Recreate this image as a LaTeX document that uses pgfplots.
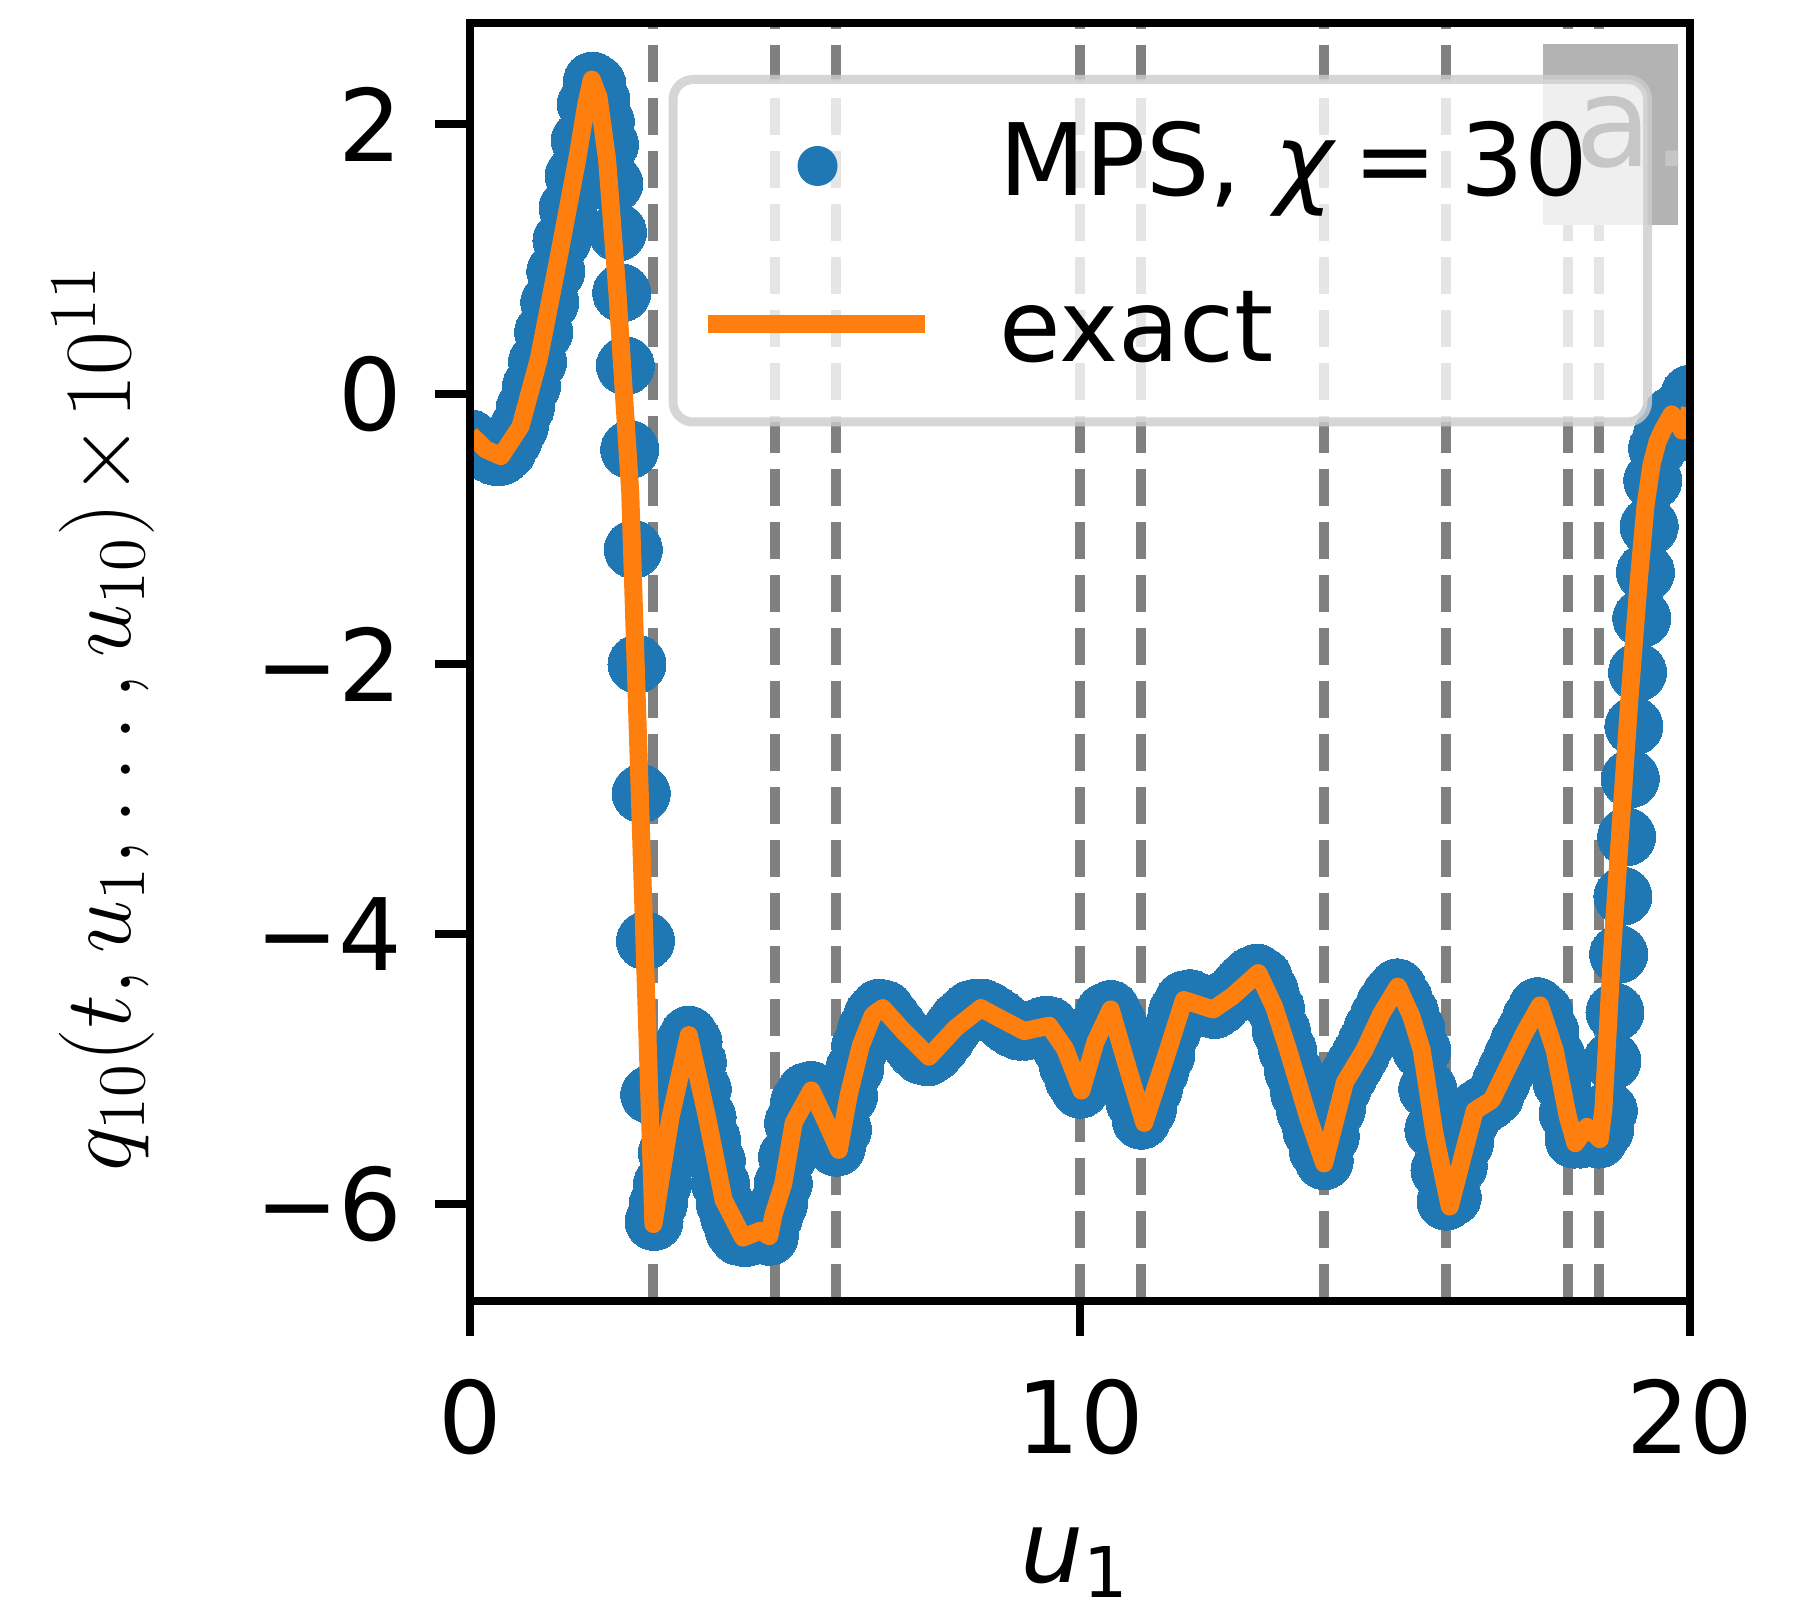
\documentclass[border=0pt]{standalone}
\usepackage{fix-cm}
\usepackage[no-math]{fontspec}
\setmainfont{DejaVu Sans}
\usepackage{pgfplots}
\usepackage{pgfplotstable}
\pgfplotsset{compat=1.18}
\definecolor{c0}{HTML}{1F77B4}
\definecolor{c1}{HTML}{FF7F0E}
\definecolor{vgray}{HTML}{808080}
\definecolor{lgedge}{HTML}{CCCCCC}
\definecolor{boxgray}{HTML}{B3B3B3}
\definecolor{agray}{HTML}{C6C6C6}

% exact solution
\pgfplotstableread{
x y
0.00 -0.30
0.25 -0.41
0.50 -0.46
0.82 -0.24
1.12 0.26
1.44 1.00
1.75 1.74
1.90 2.15
1.99 2.33
2.10 2.20
2.24 1.74
2.41 0.75
2.62 -0.73
3.00 -6.15
3.28 -5.36
3.58 -4.75
3.88 -5.36
4.15 -5.97
4.47 -6.25
4.75 -6.20
4.90 -6.24
4.97 -6.08
5.13 -5.85
5.30 -5.40
5.59 -5.16
5.80 -5.36
6.04 -5.60
6.20 -5.20
6.40 -4.83
6.60 -4.60
6.76 -4.55
7.10 -4.72
7.52 -4.91
7.95 -4.70
8.37 -4.55
8.70 -4.63
9.08 -4.72
9.49 -4.68
9.75 -4.85
10.02 -5.16
10.25 -4.80
10.50 -4.56
10.75 -4.95
11.05 -5.40
11.44 -4.86
11.70 -4.49
12.18 -4.56
12.50 -4.46
12.92 -4.29
13.18 -4.54
13.41 -4.86
13.74 -5.36
14.00 -5.70
14.34 -5.10
14.66 -4.86
14.94 -4.59
15.21 -4.39
15.43 -4.61
15.60 -4.86
15.81 -5.48
16.06 -6.02
16.30 -5.60
16.47 -5.31
16.75 -5.23
17.02 -4.98
17.29 -4.73
17.54 -4.53
17.78 -4.86
18.00 -5.36
18.12 -5.55
18.31 -5.43
18.52 -5.52
18.58 -5.30
18.72 -4.15
18.86 -3.22
19.00 -2.30
19.16 -1.38
19.27 -0.83
19.37 -0.52
19.47 -0.35
19.55 -0.27
19.70 -0.15
19.80 -0.20
19.87 -0.27
19.95 -0.25
20.00 -0.10
}\exacttab

% MPS values
\pgfplotstableread{
x y
0.00 -0.33
0.10 -0.37
0.20 -0.41
0.30 -0.44
0.40 -0.46
0.50 -0.46
0.60 -0.42
0.70 -0.34
0.80 -0.24
0.90 -0.10
1.00 0.06
1.10 0.24
1.20 0.46
1.30 0.68
1.40 0.91
1.50 1.14
1.60 1.38
1.70 1.62
1.80 1.88
1.90 2.15
2.00 2.32
2.07 2.30
2.14 2.18
2.21 2.02
2.28 1.85
2.35 1.56
2.41 1.20
2.48 0.75
2.54 0.21
2.61 -0.41
2.67 -1.15
2.73 -2.00
2.80 -2.96
2.87 -4.05
2.94 -5.19
3.01 -6.13
3.08 -6.00
3.15 -5.85
3.23 -5.62
3.31 -5.36
3.38 -5.12
3.45 -4.92
3.52 -4.80
3.58 -4.75
3.65 -4.80
3.72 -4.95
3.80 -5.15
3.88 -5.36
3.95 -5.52
4.03 -5.68
4.10 -5.85
4.18 -6.00
4.25 -6.10
4.33 -6.20
4.40 -6.24
4.50 -6.25
4.60 -6.24
4.70 -6.22
4.80 -6.22
4.90 -6.24
4.97 -6.10
5.05 -6.00
5.13 -5.85
5.20 -5.65
5.30 -5.40
5.40 -5.24
5.50 -5.17
5.59 -5.16
5.70 -5.25
5.80 -5.38
5.90 -5.50
6.00 -5.58
6.10 -5.45
6.20 -5.20
6.30 -5.00
6.40 -4.83
6.50 -4.70
6.60 -4.60
6.70 -4.55
6.80 -4.56
6.90 -4.62
7.00 -4.68
7.10 -4.74
7.20 -4.80
7.30 -4.86
7.40 -4.90
7.50 -4.91
7.60 -4.88
7.70 -4.83
7.80 -4.77
7.90 -4.70
8.00 -4.64
8.10 -4.60
8.20 -4.56
8.30 -4.55
8.40 -4.55
8.50 -4.57
8.60 -4.60
8.70 -4.63
8.80 -4.67
8.90 -4.70
9.00 -4.72
9.10 -4.72
9.20 -4.71
9.30 -4.70
9.40 -4.68
9.50 -4.68
9.60 -4.75
9.70 -4.85
9.80 -4.97
9.90 -5.08
10.00 -5.15
10.10 -5.05
10.20 -4.85
10.30 -4.68
10.40 -4.58
10.50 -4.56
10.60 -4.65
10.70 -4.85
10.80 -5.05
10.90 -5.25
11.00 -5.38
11.10 -5.30
11.20 -5.15
11.30 -5.02
11.40 -4.90
11.50 -4.72
11.60 -4.57
11.70 -4.49
11.80 -4.48
11.90 -4.50
12.00 -4.53
12.10 -4.55
12.20 -4.56
12.30 -4.53
12.40 -4.48
12.50 -4.45
12.60 -4.40
12.70 -4.35
12.80 -4.31
12.90 -4.29
13.00 -4.32
13.10 -4.42
13.20 -4.55
13.30 -4.72
13.40 -4.86
13.50 -5.02
13.60 -5.18
13.70 -5.32
13.80 -5.46
13.90 -5.60
14.00 -5.68
14.10 -5.50
14.20 -5.30
14.30 -5.14
14.40 -5.05
14.50 -4.97
14.60 -4.89
14.70 -4.80
14.80 -4.70
14.90 -4.61
15.00 -4.52
15.10 -4.45
15.20 -4.40
15.30 -4.48
15.40 -4.58
15.50 -4.70
15.60 -4.86
15.70 -5.15
15.80 -5.45
15.90 -5.75
16.00 -5.98
16.10 -5.95
16.20 -5.72
16.30 -5.55
16.40 -5.38
16.50 -5.30
16.60 -5.27
16.70 -5.24
16.80 -5.20
16.90 -5.10
17.00 -5.00
17.10 -4.90
17.20 -4.80
17.30 -4.72
17.40 -4.62
17.50 -4.54
17.60 -4.58
17.70 -4.72
17.80 -4.90
17.90 -5.10
18.00 -5.33
18.10 -5.52
18.20 -5.52
18.30 -5.45
18.40 -5.48
18.50 -5.52
18.60 -5.45
18.66 -5.31
18.72 -4.94
18.77 -4.58
18.83 -4.15
18.90 -3.72
18.96 -3.28
19.02 -2.85
19.08 -2.46
19.14 -2.06
19.21 -1.66
19.27 -1.32
19.33 -0.98
19.39 -0.64
19.47 -0.40
19.55 -0.30
19.62 -0.22
19.70 -0.16
19.78 -0.18
19.86 -0.27
19.92 -0.28
20.00 0.00
}\mpstab

\begin{document}
\begin{tikzpicture}
\useasboundingbox (-94.1bp,-59.4bp) rectangle (267.5bp,260.2bp);
\begin{axis}[
  scale only axis, width=243.9bp, height=255.6bp,
  at={(0,0)}, anchor=south west,
  xmin=0, xmax=20, ymin=-6.72, ymax=2.75,
  axis on top,
  axis line style={line width=1.6bp},
  tick align=outside, tick pos=left,
  tick style={line width=1.6bp, black},
  major tick length=7bp,
  xtick={0,10,20}, xticklabels={0,10,20},
  ytick={-6,-4,-2,0,2}, yticklabels={−6,−4,−2,0,2},
  ticklabel style={font=\fontsize{20bp}{24bp}\selectfont, inner sep=0pt},
  xticklabel style={anchor=north, yshift=-8.4bp},
  yticklabel style={anchor=east, xshift=-6.4bp},
  xlabel={{\itshape u}\raisebox{-3bp}{\fontsize{14bp}{16bp}\selectfont 1}},
  xlabel style={at={(axis description cs:0.4949,-0.2199)}, anchor=base,
    font=\fontsize{20bp}{24bp}\selectfont, inner sep=0pt},
  ylabel={$q_{10}(t,u_1,\ldots,u_{10})\!\times\!10^{11}$},
  ylabel style={at={(axis description cs:-0.2792,0.4564)}, anchor=base,
    font=\fontsize{19bp}{22bp}\selectfont, inner sep=0pt},
  clip marker paths=true,
  legend style={
    at={(axis description cs:0.1624,0.9593)}, anchor=north west,
    draw=lgedge, draw opacity=0.8, line width=1.8bp, rounded corners=4bp,
    fill=white, fill opacity=0.8, text opacity=1,
    inner xsep=0pt, inner ysep=3.5bp, row sep=4.9bp, column sep=5.3bp,
    font=\fontsize{20bp}{24bp}\selectfont,
    nodes={inner sep=0pt, anchor=west, text height=19.8bp, text depth=8.5bp,
      text width=129.6bp},
  },
]
\foreach \xv in {3,5,6,10,11,14,16,18,18.5}{
  \edef\tmp{\noexpand\addplot[vgray, line width=2bp, dash pattern=on 7.4bp off 3.2bp,
    forget plot] coordinates {(\xv,-6.72) (\xv,2.75)};}\tmp
}
\addplot[c0, only marks, mark=*, mark size=5.8bp,
  mark options={draw=c0, fill=c0, line width=0pt},
  legend image code/.code={
    \path[draw=none, fill=none] (0bp,-5bp) rectangle (60bp,5bp);
    \fill[c0, draw=none, fill opacity=1] (28.9bp,0.35bp) circle (4bp);
  }] table[x=x, y=y] {\mpstab};
\addlegendentry{MPS, {\itshape χ}\hspace{4bp}=\hspace{4.6bp}30}
\addplot[c1, line width=3.6bp, line join=round,
  legend image code/.code={
    \path[draw=none, fill=none] (0bp,-5bp) rectangle (60bp,5bp);
    \draw[c1, line width=3.6bp, draw opacity=1, line cap=rect, rounded corners=0pt]
      (8.7bp,1.85bp) -- (48.5bp,1.85bp);
  }] table[x=x, y=y] {\exacttab};
\addlegendentry{exact}
\fill[boxgray] (axis cs:17.59,1.255) rectangle (axis cs:19.80,2.597);
\end{axis}
\node[anchor=base west, inner sep=0pt, text=agray,
  font=\fontsize{25bp}{28bp}\selectfont] at (220.8bp,226.8bp) {a.};
\end{tikzpicture}
\end{document}
